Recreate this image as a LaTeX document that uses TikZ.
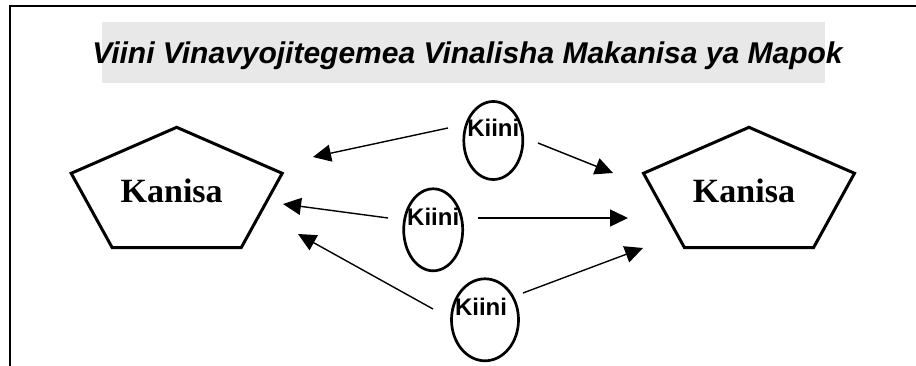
\documentclass[tikz,border=0pt]{standalone}
\usepackage{fontspec}
\setmainfont{Liberation Serif}
\setsansfont{Liberation Sans}
\usetikzlibrary{
  shapes.geometric,
  arrows.meta
}

\begin{document}
\begin{tikzpicture}[x=1pt,y=-1pt]
  \tikzset{
    frameline/.style = {line width=2pt},
    titlebg/.style = {fill=black!9},
    titletext/.style = {font=\sffamily\bfseries\itshape\fontsize{30}{36}\selectfont, inner sep=0pt},
    kanisaline/.style = {line width=3pt, line join=miter},
    kanisatext/.style = {font=\bfseries\fontsize{34}{40}\selectfont, inner sep=0pt},
    kiinishape/.style = {ellipse, draw, line width=2.7pt, inner sep=0pt},
    kiinitext/.style = {font=\sffamily\bfseries\fontsize{24}{28}\selectfont, inner sep=0pt},
    kiiniarrow/.style = {line width=1.4pt, -{Triangle[length=18pt,width=17pt]}},
    kanisa/.pic = {
      \draw[kanisaline] (0,0) -- (105.5,46) -- (64.5,120.4)
        -- (-64.5,120.4) -- (-105.5,46) -- cycle;
      \node[kanisatext] (-txt) at (-5,63.2) {Kanisa};
    }
  }
  \useasboundingbox (0,0) rectangle (916,366);

  % frame: only top and left edges show
  \draw[frameline] (10,366) -- (10,6) -- (916,6);

  % title bar, text runs past the grey on both sides
  \fill[titlebg] (102,22) rectangle (825,83);
  \node[titletext, anchor=base] (title) at (467.5,63.3)
  {Viini Vinavyojitegemea Vinalisha Makanisa ya Mapok};

  % the two churches
  \pic (kl) at (176.7,127.3) {kanisa};
  \pic (kr) at (749,127.3) {kanisa};

  % the three cells, text sits high in each
  \foreach \n/\x/\y/\w/\h/\dx in {1/493.3/140.5/59/78/0,2/433.2/229.8/59/82/0,3/485/319.8/67/82/-4}
  \node[kiinishape, minimum width=\w pt, minimum height=\h pt,
    label={[kiinitext, yshift=12.5pt, xshift=\dx pt]center:Kiini}]
  (kiini-\n) at (\x,\y) {};

  % arrow ends
  \coordinate (out-l1) at (448,128);
  \coordinate (out-l2) at (388,218);
  \coordinate (out-l3) at (433,309);
  \coordinate (out-r1) at (538,143);
  \coordinate (out-r2) at (478,218);
  \coordinate (out-r3) at (523,293);
  \coordinate (in-l1) at (313,157);
  \coordinate (in-l2) at (283,204);
  \coordinate (in-l3) at (298,234);
  \coordinate (in-r1) at (613,173);
  \coordinate (in-r2) at (628,218);
  \coordinate (in-r3) at (643,248);

  \foreach \s in {l1,l2,l3,r1,r2,r3}
  \draw[kiiniarrow] (out-\s) -- (in-\s);
\end{tikzpicture}
\end{document}
